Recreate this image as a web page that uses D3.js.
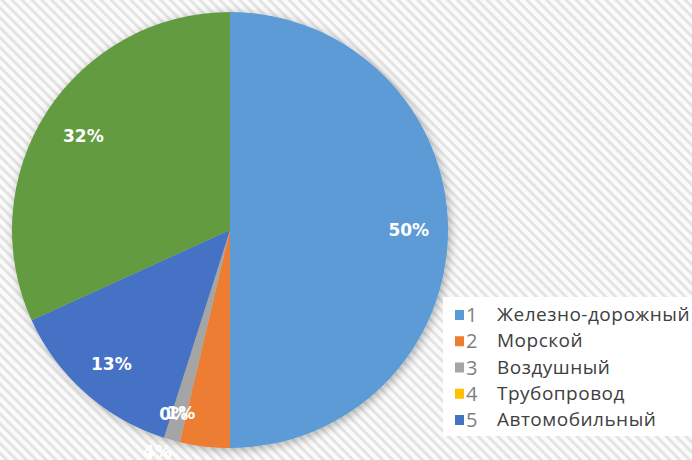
<!DOCTYPE html>
<html>
<head>
<meta charset="utf-8">
<script src="https://cdn.jsdelivr.net/npm/d3@7"></script>
<style>
  html, body { margin: 0; padding: 0; background: #fff; }
  svg { display: block; }
</style>
</head>
<body>
<svg class="chart" width="692" height="460"></svg>
<script>
// slice values (percent), legend numbers and names
const values = [50.0, 3.7, 1.2, 0.0, 13.3, 31.8]
const legendNums = ['1', '2', '3', '4', '5']
const legendNames = ['Железно-дорожный', 'Морской', 'Воздушный', 'Трубопровод', 'Автомобильный']
const colors = ['#5b9bd5', '#ed7d31', '#a5a5a5', '#ffc000', '#4472c4', '#629b3f']

// layout
const w = 692
const h = 460
const cx = 230
const cy = 230
const r = 218

// label radius (as fraction of r) and extra angle in degrees, per slice
const labelRadius = [0.82, 1.07, 0.87, 0.88, 0.82, 0.8]
const labelShift = [0, 11.5, -0.5, -0.6, 0, 0]

const svg = d3.select('.chart')
const defs = svg.append('defs')

// diagonal hatch background
const pat = defs.append('pattern')
    .attr('id', 'hatch')
    .attr('patternUnits', 'userSpaceOnUse')
    .attr('width', 7)
    .attr('height', 7)
    .attr('patternTransform', 'rotate(-45)')
pat.append('rect').attr('width', 7).attr('height', 7).attr('fill', '#fbfbfb')
pat.append('rect').attr('width', 3).attr('height', 7).attr('fill', '#e4e4e4')

svg.append('rect')
    .attr('width', w)
    .attr('height', h)
    .attr('fill', 'url(#hatch)')

// soft shadow round the pie
const shadow = defs.append('filter')
    .attr('id', 'shadow')
    .attr('x', '-20%').attr('y', '-20%')
    .attr('width', '140%').attr('height', '140%')
shadow.append('feDropShadow')
    .attr('dx', 2).attr('dy', 2)
    .attr('stdDeviation', 5)
    .attr('flood-color', '#000')
    .attr('flood-opacity', 0.3)

const pie = d3.pie().sort(null).value(d => d)
const arcs = pie(values)
const arc = d3.arc().innerRadius(0).outerRadius(r)

const g = svg.append('g')
    .attr('transform', 'translate(' + cx + ',' + cy + ')')

g.append('g')
    .attr('filter', 'url(#shadow)')
  .selectAll('path').data(arcs)
  .enter().append('path')
    .attr('d', arc)
    .attr('fill', (d, i) => colors[i])

// percent labels
const fmt = d3.format('.0%')
g.selectAll('text.lbl').data(arcs)
  .enter().append('text')
    .attr('class', 'lbl')
    .attr('transform', (d, i) => {
      const a = (d.startAngle + d.endAngle) / 2 + labelShift[i] * Math.PI / 180
      const rr = r * labelRadius[i]
      return 'translate(' + (Math.sin(a) * rr) + ',' + (-Math.cos(a) * rr) + ')'
    })
    .attr('text-anchor', 'middle')
    .attr('dy', '0.36em')
    .attr('fill', '#fff')
    .style('font-family', 'DejaVu Sans, sans-serif')
    .style('font-weight', 'bold')
    .style('font-size', '17px')
    .text(d => fmt(d.value / 100))

// legend
const legend = svg.append('g')
    .attr('transform', 'translate(443, 297)')

legend.append('rect')
    .attr('width', 249)
    .attr('height', 139)
    .attr('fill', '#fff')

const rowY = d3.scalePoint()
    .domain(legendNums)
    .range([18, 123])

const rows = legend.selectAll('g.row').data(legendNums)
  .enter().append('g')
    .attr('class', 'row')
    .attr('transform', d => 'translate(0,' + rowY(d) + ')')

rows.append('rect')
    .attr('x', 12)
    .attr('y', -5)
    .attr('width', 9)
    .attr('height', 10)
    .attr('fill', (d, i) => colors[i])

rows.append('text')
    .attr('x', 23)
    .attr('y', 7)
    .attr('fill', '#7f7f7f')
    .style('font-family', 'Open Sans, sans-serif')
    .style('font-size', '20px')
    .text(d => d)

rows.append('text')
    .attr('x', 54)
    .attr('y', 6)
    .attr('fill', '#404040')
    .style('font-family', 'Open Sans, sans-serif')
    .style('font-size', '19px')
    .style('letter-spacing', '0.5px')
    .text((d, i) => legendNames[i])
</script>
</body>
</html>
